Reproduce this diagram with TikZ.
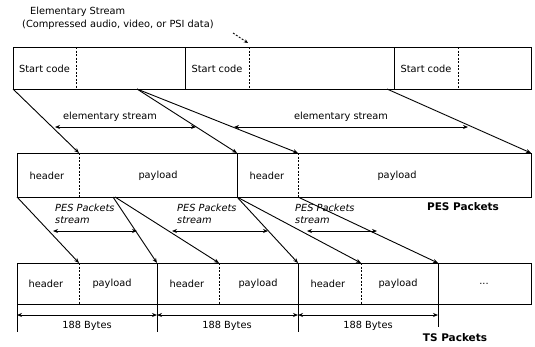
\documentclass[tikz,border=0pt]{standalone}
\usepackage{fontspec}
\setmainfont{DejaVu Sans}
\usetikzlibrary{arrows.meta}
\begin{document}
\begin{tikzpicture}[x=1pt,y=-1pt,
  box/.style={draw,line width=0.9pt},
  solidsep/.style={draw,line width=0.8pt},
  dashsep/.style={draw,line width=0.8pt,dash pattern=on 2pt off 1.5pt},
  conn/.style={line width=0.9pt,-{Stealth[length=5pt,width=4pt]}},
  dbl/.style={line width=0.9pt,{Stealth[length=5pt,width=4pt]}-{Stealth[length=5pt,width=4pt]}},
  lbl/.style={font=\fontsize{9.8}{11}\selectfont,inner sep=0pt},
  ilbl/.style={font=\fontsize{9.8}{12}\selectfont\itshape,inner sep=0pt,align=left,anchor=north west},
  blbl/.style={font=\fontsize{10.5}{12}\selectfont\bfseries,inner sep=0pt},
  tick/.style={line width=0.8pt}]
\useasboundingbox (0,0) rectangle (535,346);

% ---------- top row: elementary stream
\draw[box] (13,47) rectangle (531,89);
\draw[solidsep] (185,47) -- (185,89);
\draw[solidsep] (394,47) -- (394,89);
\draw[dashsep] (76,47) -- (76,89);
\draw[dashsep] (249,47) -- (249,89);
\draw[dashsep] (458,47) -- (458,89);
\node[lbl] (sc1) at (44.5,69) {Start code};
\node[lbl] (sc2) at (217,69) {Start code};
\node[lbl] (sc3) at (426,69) {Start code};

\node[lbl,anchor=west] (es1) at (30,12) {Elementary Stream};
\node[lbl,anchor=west] (es2) at (22,25) {(Compressed audio, video, or PSI data)};
\coordinate (esa) at (233,33);
\coordinate (esb) at (248,43);
\draw[line width=0.9pt,dash pattern=on 2pt off 1.5pt,-{Stealth[length=4pt,width=3.5pt]}] (esa) -- (esb);

% ---------- middle row: PES packets
\draw[box] (17,153) rectangle (531,197);
\draw[dashsep] (79,153) -- (79,197);
\draw[solidsep] (237,153) -- (237,197);
\draw[dashsep] (298,153) -- (298,197);
\node[lbl] (h1) at (47,176) {header};
\node[lbl] (p1) at (158,176) {payload};
\node[lbl] (h2) at (267,176) {header};
\node[lbl] (p2) at (397,176) {payload};
\node[blbl] (pes) at (463,207) {PES Packets};

% ---------- bottom row: TS packets
\draw[box] (17,263) rectangle (531,304);
\draw[solidsep] (157,263) -- (157,304);
\draw[solidsep] (298,263) -- (298,304);
\draw[solidsep] (438,263) -- (438,304);
\draw[dashsep] (79,263) -- (79,304);
\draw[dashsep] (219,263) -- (219,304);
\draw[dashsep] (361,263) -- (361,304);
\node[lbl] (th1) at (46,284) {header};
\node[lbl] (tp1) at (112,284) {payload};
\node[lbl] (th2) at (187,284) {header};
\node[lbl] (tp2) at (258,284) {payload};
\node[lbl] (th3) at (328,284) {header};
\node[lbl] (tp3) at (398,284) {payload};
\node[lbl] (tdots) at (484,284) {...};

% ---------- connector coordinates
\coordinate (t0) at (13,89);
\coordinate (t1) at (137,89);
\coordinate (t2) at (387,89);
\coordinate (m0) at (79,153);
\coordinate (m1) at (237,153);
\coordinate (m2) at (298,153);
\coordinate (m3) at (531,153);
\coordinate (mb0) at (17,197);
\coordinate (mb1) at (113,197);
\coordinate (mb1b) at (115,197);
\coordinate (mb2) at (237,197);
\coordinate (mb3) at (298,197);
\coordinate (b0) at (79,263);
\coordinate (b1) at (157,263);
\coordinate (b2) at (219,263);
\coordinate (b3) at (298,263);
\coordinate (b4) at (361,263);
\coordinate (b5) at (438,263);

\draw[conn] (t0) -- (m0);
\draw[conn] (t1) -- (m1);
\draw[conn] (t1) -- (m2);
\draw[conn] (t2) -- (m3);

\draw[conn] (mb0) -- (b0);
\draw[conn] (mb1) -- (b1);
\draw[conn] (mb1b) -- (b2);
\draw[conn] (mb2) -- (b3);
\draw[conn] (mb2) -- (b4);
\draw[conn] (mb3) -- (b5);

% ---------- elementary stream spans
\coordinate (ea1) at (55,127);
\coordinate (ea2) at (196,127);
\coordinate (ea3) at (234,127);
\coordinate (ea4) at (468,127);
\draw[dbl] (ea1) -- (ea2);
\draw[dbl] (ea3) -- (ea4);
\node[lbl] (el1) at (110,117) {elementary stream};
\node[lbl] (el2) at (341,117) {elementary stream};

% ---------- PES packets stream spans
\coordinate (pa1) at (53,231);
\coordinate (pa2) at (137,231);
\coordinate (pa3) at (172,231);
\coordinate (pa4) at (268,231);
\coordinate (pa5) at (307,231);
\coordinate (pa6) at (377,231);
\draw[dbl] (pa1) -- (pa2);
\draw[dbl] (pa3) -- (pa4);
\draw[dbl] (pa5) -- (pa6);
\node[ilbl] (ps1) at (55,204) {PES Packets\\stream};
\node[ilbl] (ps2) at (177,204) {PES Packets\\stream};
\node[ilbl] (ps3) at (295,204) {PES Packets\\stream};

% ---------- 188 bytes
\draw[tick] (17,304) -- (17,332);
\draw[tick] (157,304) -- (157,332);
\draw[tick] (298,304) -- (298,332);
\draw[tick] (438,304) -- (438,327);
\coordinate (ba0) at (17,315);
\coordinate (ba1) at (157,315);
\coordinate (ba2) at (298,315);
\coordinate (ba3) at (438,315);
\draw[dbl] (ba0) -- (ba1);
\draw[dbl] (ba1) -- (ba2);
\draw[dbl] (ba2) -- (ba3);
\node[lbl] (by1) at (87,326) {188 Bytes};
\node[lbl] (by2) at (227,326) {188 Bytes};
\node[lbl] (by3) at (368,326) {188 Bytes};
\node[blbl] (ts) at (455,338) {TS Packets};
\end{tikzpicture}
\end{document}
